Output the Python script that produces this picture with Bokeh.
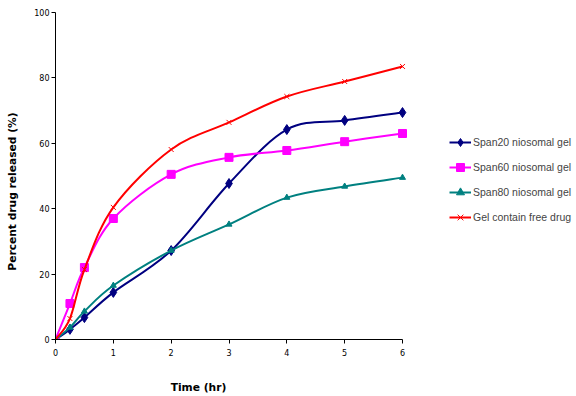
from bokeh.plotting import figure
from bokeh.models import Range1d, Legend, LegendItem, Label, FixedTicker
from bokeh.embed import file_html
from bokeh.resources import INLINE
import math

time_hr = [0, 0.25, 0.5, 1, 2, 3, 4, 5, 6]
span20 = [0, 3.1, 6.7, 14.4, 27.2, 47.7, 64.2, 67.0, 69.4]
span60 = [0, 11.0, 22.0, 37.0, 50.5, 55.7, 57.8, 60.5, 63.0]
span80 = [0, 3.7, 8.6, 16.5, 27.2, 35.2, 43.4, 46.8, 49.5]
free_drug = [0, 6.4, 21.4, 40.4, 58.1, 66.4, 74.3, 78.9, 83.5]
series_names = ["Span20 niosomal gel", "Span60 niosomal gel",
                "Span80 niosomal gel", "Gel contain free drug"]
x_ticks = [0, 1, 2, 3, 4, 5, 6]
y_ticks = [0, 20, 40, 60, 80, 100]

W, H = 576, 396
LEFT, RIGHT, TOP, BOTTOM = 55, 2, 12, 57
axis_px = 347  # pixel length of the 0..6 axis
x_end = 6 * (W - LEFT - RIGHT) / axis_px

p = figure(width=W, height=H, output_backend="svg", toolbar_location=None,
           x_range=Range1d(0, x_end), y_range=Range1d(0, 100),
           min_border_left=LEFT, min_border_right=RIGHT,
           min_border_top=TOP, min_border_bottom=BOTTOM)
p.outline_line_color = None
p.xgrid.visible = False
p.ygrid.visible = False
p.background_fill_color = "white"
p.border_fill_color = "white"

for ax, ticks in ((p.xaxis[0], x_ticks), (p.yaxis[0], y_ticks)):
    ax.ticker = FixedTicker(ticks=ticks)
    ax.minor_tick_line_color = None
    ax.major_tick_in = 0
    ax.major_tick_out = 4
    ax.axis_line_color = "black"
    ax.major_tick_line_color = "black"
    ax.major_label_text_font = "DejaVu Sans"
    ax.major_label_text_font_size = "8px"
    ax.major_label_text_color = "black"
p.xaxis[0].bounds = (0, 6)
p.yaxis[0].major_label_standoff = 2
p.xaxis[0].major_label_standoff = 5


def smooth_segments(xs, ys):
    n = len(xs)
    out = dict(x0=[], y0=[], x1=[], y1=[], cx0=[], cy0=[], cx1=[], cy1=[])
    for i in range(n - 1):
        im = max(i - 1, 0)
        ip2 = min(i + 2, n - 1)
        out["x0"].append(xs[i]); out["y0"].append(ys[i])
        out["x1"].append(xs[i + 1]); out["y1"].append(ys[i + 1])
        out["cx0"].append(xs[i] + (xs[i + 1] - xs[im]) / 6)
        out["cy0"].append(ys[i] + (ys[i + 1] - ys[im]) / 6)
        out["cx1"].append(xs[i + 1] - (xs[ip2] - xs[i]) / 6)
        out["cy1"].append(ys[i + 1] - (ys[ip2] - ys[i]) / 6)
    return out


styles = [
    ("#000080", "diamond", 10),
    ("#FF00FF", "square", 8),
    ("#008080", "triangle", 6),
    ("#FF0000", "x", 7),
]
nan = float("nan")
items = []
for name, ys, (col, mk, sz) in zip(series_names, [span20, span60, span80, free_drug], styles):
    seg = smooth_segments(time_hr, ys)
    p.bezier(line_color=col, line_width=2, **seg)
    lr = p.line(x=[nan], y=[nan], line_color=col, line_width=2)
    if mk == "x":
        sr = p.scatter(time_hr, ys, marker=mk, size=sz, line_color=col, line_width=1)
    else:
        sr = p.scatter(time_hr, ys, marker=mk, size=sz, fill_color=col, line_color=col)
    items.append(LegendItem(label=name, renderers=[lr, sr]))

legend = Legend(items=items, location=(394, 112), border_line_color=None,
                background_fill_alpha=0, padding=0, margin=0, spacing=5,
                glyph_width=22, glyph_height=20, label_height=20, label_standoff=2,
                label_text_font="Liberation Sans", label_text_font_size="10.5px")
p.add_layout(legend, "center")

p.add_layout(Label(x=143, y=-16, x_units="screen", y_units="screen", text="Time (hr)",
                   text_align="center", text_baseline="middle",
                   text_font="DejaVu Sans", text_font_style="bold",
                   text_font_size="10.7px", text_color="black"), "below")
p.add_layout(Label(x=-6, y=148, x_units="screen", y_units="screen",
                   text="Percent drug released (%)", angle=math.pi / 2,
                   text_align="center", text_baseline="middle",
                   text_font="DejaVu Sans", text_font_style="bold",
                   text_font_size="10.7px", text_color="black"), "left")

open("out.html", "w").write(file_html(p, INLINE))
